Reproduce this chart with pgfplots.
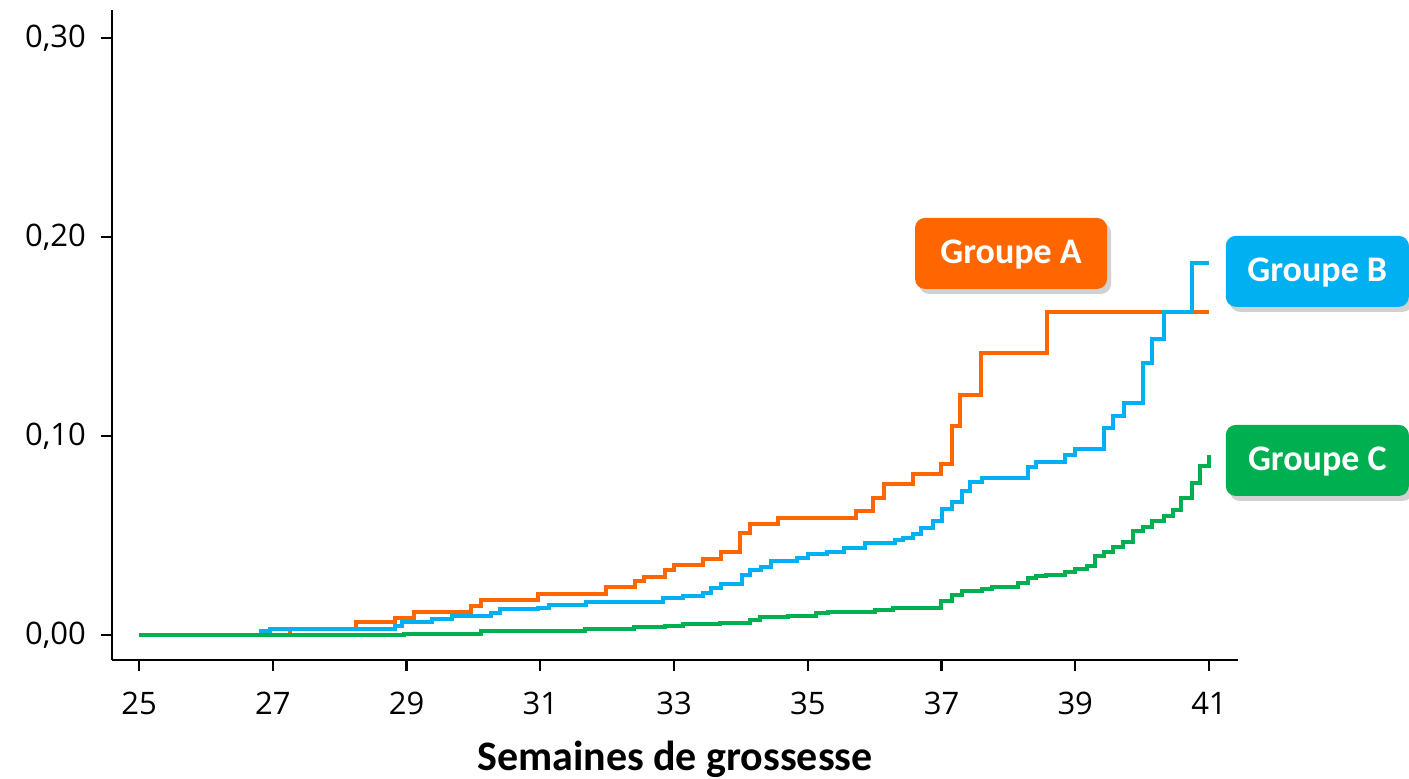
\documentclass[border=0pt]{standalone}
\usepackage{pgfplots}
\pgfplotsset{compat=1.18}
\usepackage{fontspec}
\setmainfont{Carlito}
\newfontfamily\tickfont{Open Sans}
\usetikzlibrary{shadows}
\definecolor{cA}{HTML}{FF6600}
\definecolor{cB}{HTML}{00B0F0}
\definecolor{cC}{HTML}{00B050}
\begin{document}
\begin{tikzpicture}
\path[use as bounding box] (-56pt,-59.5pt) rectangle (648.5pt,330pt);
\begin{axis}[
  at={(0,0)}, anchor=south west,
  scale only axis, width=563pt, height=325pt,
  xmin=24.596, xmax=41.434, ymin=-0.01256, ymax=0.314,
  axis lines=left, axis line style={-, line width=1.2pt, black},
  xtick={25,27,...,41}, ytick={0,0.1,0.2,0.3},
  tick align=outside, major tick length=5.5pt,
  tick style={line width=1.2pt, black},
  clip=false,
  every tick label/.append style={font=\tickfont\fontsize{15.5}{18}\selectfont},
  /pgf/number format/assume math mode=true,
  yticklabel style={xshift=-4pt, /pgf/number format/.cd, fixed, fixed zerofill, precision=2, use comma},
  xticklabel style={yshift=-7pt, /pgf/number format/.cd, fixed, precision=0},
  xlabel={\bfseries Semaines de grossesse},
  xlabel style={font=\fontsize{21}{25}\selectfont, yshift=-6pt},
]
\addplot[const plot, cA, line width=2pt] coordinates {
(25,0) (27.26,0.003) (28.25,0.0065) (28.83,0.0087) (29.11,0.0117) (29.96,0.0147)
(30.12,0.0174) (30.97,0.0206) (31.98,0.0243) (32.42,0.027) (32.55,0.029)
(32.87,0.0327) (33.0,0.035) (33.43,0.038) (33.70,0.0417) (33.99,0.051)
(34.14,0.056) (34.55,0.0588) (35.72,0.0625) (35.98,0.069) (36.14,0.076)
(36.57,0.081) (37.00,0.086) (37.15,0.105) (37.28,0.1206) (37.59,0.1415)
(38.58,0.1625) (41,0.1625)};
\addplot[const plot, cB, line width=2pt] coordinates {
(25,0) (26.82,0.002) (26.96,0.003) (28.83,0.0047) (28.93,0.0067) (29.38,0.008)
(29.68,0.0094) (30.26,0.0109) (30.40,0.013) (30.97,0.0137) (31.13,0.015)
(31.68,0.0167) (32.83,0.0184) (33.13,0.0198) (33.43,0.0213) (33.56,0.0235)
(33.70,0.0256) (34.01,0.0302) (34.14,0.0327) (34.30,0.034) (34.45,0.0372)
(34.84,0.0385) (35.01,0.0405) (35.29,0.0419) (35.54,0.0439) (35.86,0.046)
(36.30,0.0477) (36.43,0.0486) (36.57,0.0505) (36.70,0.054) (36.87,0.0575)
(37.01,0.0632) (37.15,0.0667) (37.30,0.0725) (37.43,0.077) (37.60,0.0787)
(38.30,0.0846) (38.42,0.0868) (38.85,0.0905) (39.00,0.0935) (39.43,0.1039)
(39.57,0.110) (39.73,0.1164) (40.01,0.1368) (40.15,0.1486) (40.32,0.1625)
(40.74,0.1868) (41,0.1868)};
\addplot[const plot, cC, line width=2pt] coordinates {
(25,0) (28.96,0.0007) (30.11,0.0018) (31.67,0.003) (32.40,0.0042) (32.87,0.0047)
(33.14,0.0055) (33.69,0.0059) (34.13,0.0075) (34.29,0.0092) (34.71,0.0097)
(35.13,0.0109) (35.31,0.0116) (36.01,0.0126) (36.28,0.0137) (37.00,0.0170)
(37.15,0.020) (37.30,0.022) (37.60,0.023) (37.75,0.024) (38.15,0.026)
(38.30,0.0285) (38.42,0.0296) (38.57,0.0302) (38.85,0.0318) (39.00,0.033)
(39.17,0.0348) (39.30,0.0397) (39.43,0.0419) (39.57,0.0444) (39.72,0.0469)
(39.87,0.052) (40.01,0.0541) (40.15,0.0574) (40.32,0.0598) (40.46,0.0628)
(40.58,0.0687) (40.74,0.0762) (40.87,0.0849) (41,0.0905)};
\tikzset{lab/.style={rounded corners=5pt, minimum width=96pt, minimum height=35.5pt,
  text=white, font=\bfseries\fontsize{18}{21}\selectfont, inner sep=0pt,
  text height=10.5pt, text depth=0pt,
  drop shadow={shadow xshift=2pt, shadow yshift=-2.5pt, fill=black, opacity=0.18}}}
\node[lab, fill=cA] at (axis cs:38.04,0.1917) {Groupe A};
\node[lab, fill=cB, minimum width=91.5pt] at (axis cs:42.62,0.1827) {Groupe B};
\node[lab, fill=cC, minimum width=91.5pt] at (axis cs:42.62,0.0877) {Groupe C};
\end{axis}
\end{tikzpicture}
\end{document}
